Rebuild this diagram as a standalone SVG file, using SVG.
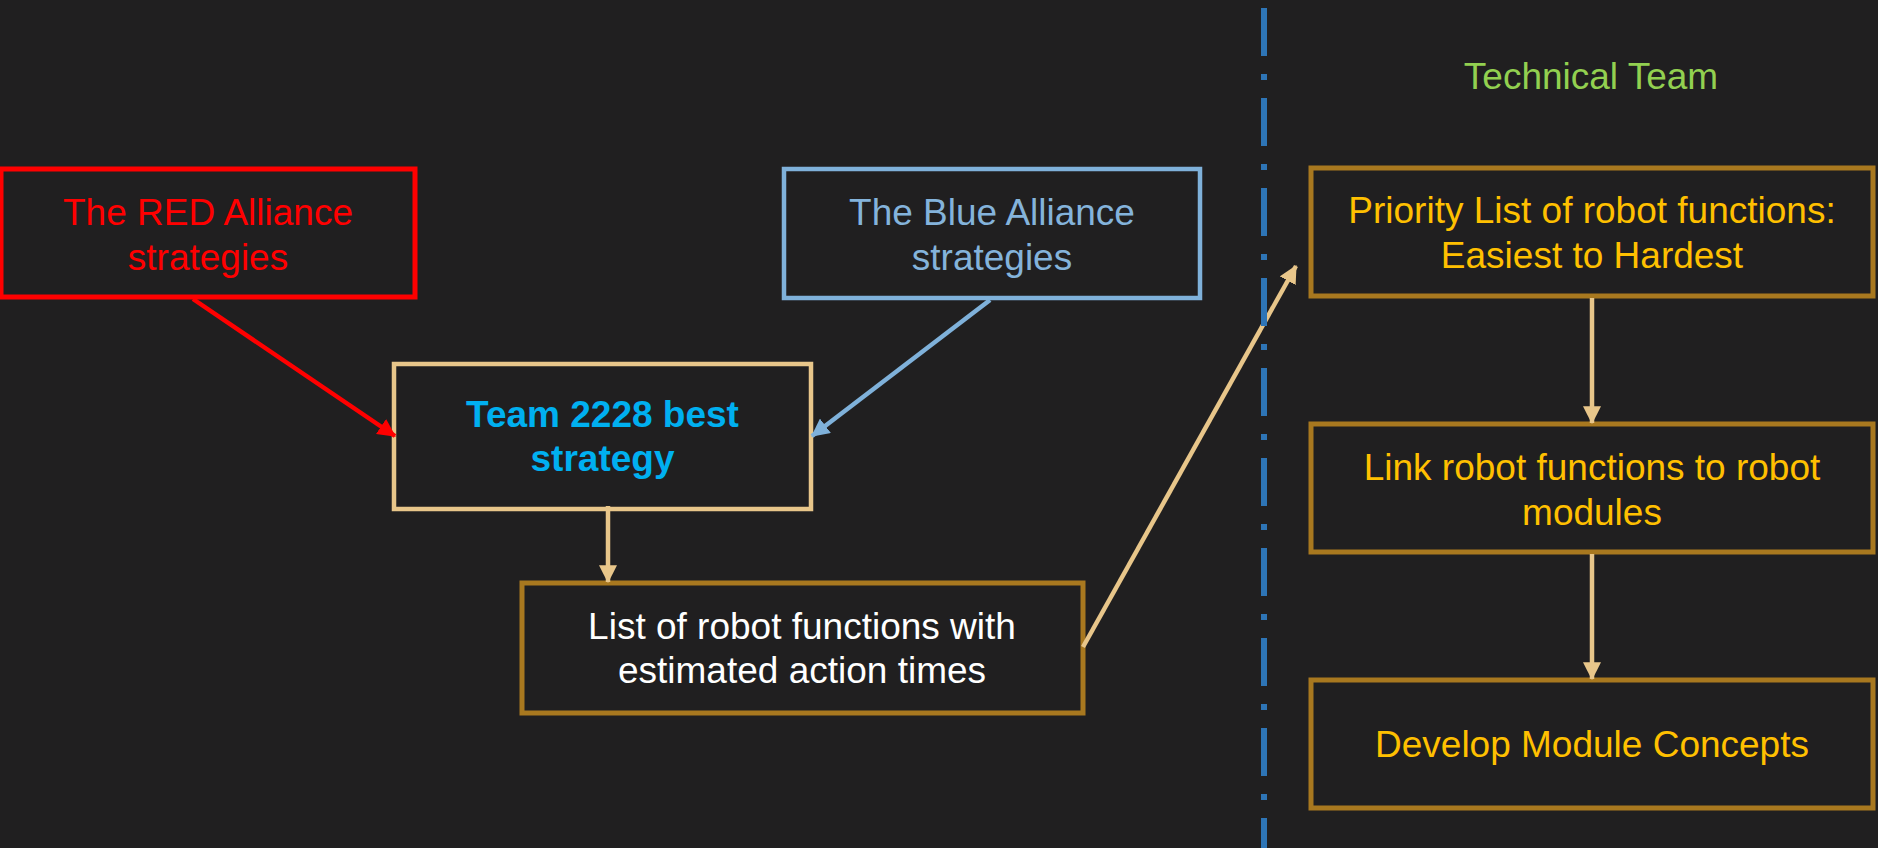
<svg xmlns="http://www.w3.org/2000/svg" width="1878" height="848" viewBox="0 0 1878 848">
<style>
text{font-family:"Liberation Sans",Arial,sans-serif;font-size:37px;text-anchor:middle}
.box{fill:#201F20}
.gold{stroke:#A8781F;stroke-width:5}
.conn{fill:none;stroke-width:4.5}
.tan{stroke:#E8C68A}
.yel{fill:#FFC000}
</style>
<defs>
<marker id="aTan" markerUnits="userSpaceOnUse" markerWidth="18" markerHeight="18" viewBox="0 0 16 16" refX="15" refY="8" orient="auto"><path d="M0,0 L16,8 L0,16 Z" fill="#E8C68A"/></marker>
<marker id="aRed" markerUnits="userSpaceOnUse" markerWidth="18" markerHeight="18" viewBox="0 0 16 16" refX="15" refY="8" orient="auto"><path d="M0,0 L16,8 L0,16 Z" fill="#FF0000"/></marker>
<marker id="aBlue" markerUnits="userSpaceOnUse" markerWidth="18" markerHeight="18" viewBox="0 0 16 16" refX="15" refY="8" orient="auto"><path d="M0,0 L16,8 L0,16 Z" fill="#7FB1DA"/></marker>
</defs>
<rect width="1878" height="848" fill="#201F20"/>
<g id="red-alliance">
<rect class="box" x="1" y="169" width="414" height="128" stroke="#FF0000" stroke-width="5"/>
<text x="208" y="225" fill="#FF0000">The RED Alliance</text>
<text x="208" y="270" fill="#FF0000">strategies</text>
</g>
<g id="blue-alliance">
<rect class="box" x="784" y="169" width="416" height="129" stroke="#7FB1DA" stroke-width="4.5"/>
<text x="992" y="225" fill="#84B3DB">The Blue Alliance</text>
<text x="992" y="270" fill="#84B3DB">strategies</text>
</g>
<g id="team-strategy">
<rect class="box" x="394" y="364" width="417" height="145" stroke="#E8C68A" stroke-width="4.5"/>
<text x="602.5" y="427" fill="#00B0F0" font-weight="bold">Team 2228 best</text>
<text x="602.5" y="471" fill="#00B0F0" font-weight="bold">strategy</text>
</g>
<g id="function-list">
<rect class="box gold" x="522" y="583" width="561" height="130"/>
<text x="802" y="639" fill="#FFFFFF">List of robot functions with</text>
<text x="802" y="683" fill="#FFFFFF">estimated action times</text>
</g>
<g id="technical-team-label">
<text x="1591" y="89" fill="#92D050">Technical Team</text>
</g>
<g id="priority-list">
<rect class="box gold" x="1311" y="168" width="562" height="128"/>
<text class="yel" x="1592" y="223">Priority List of robot functions:</text>
<text class="yel" x="1592" y="268">Easiest to Hardest</text>
</g>
<g id="link-modules">
<rect class="box gold" x="1311" y="424" width="562" height="128"/>
<text class="yel" x="1592" y="480">Link robot functions to robot</text>
<text class="yel" x="1592" y="525">modules</text>
</g>
<g id="module-concepts">
<rect class="box gold" x="1311" y="680" width="562" height="128"/>
<text class="yel" x="1592" y="757">Develop Module Concepts</text>
</g>
<g id="connectors">
<line class="conn" x1="193" y1="299" x2="395" y2="436" stroke="#FF0000" marker-end="url(#aRed)"/>
<line class="conn" x1="990" y1="300" x2="812" y2="436" stroke="#7FB1DA" marker-end="url(#aBlue)"/>
<line class="conn tan" x1="608" y1="506" x2="608" y2="582" marker-end="url(#aTan)"/>
<line class="conn tan" x1="1083" y1="647" x2="1296" y2="266" marker-end="url(#aTan)"/>
<line class="conn tan" x1="1592" y1="298" x2="1592" y2="423" marker-end="url(#aTan)"/>
<line class="conn tan" x1="1592" y1="554" x2="1592" y2="679" marker-end="url(#aTan)"/>
</g>
<line x1="1264" y1="8" x2="1264" y2="848" stroke="#2E75B6" stroke-width="6" stroke-dasharray="48 18 6 18"/>
</svg>
